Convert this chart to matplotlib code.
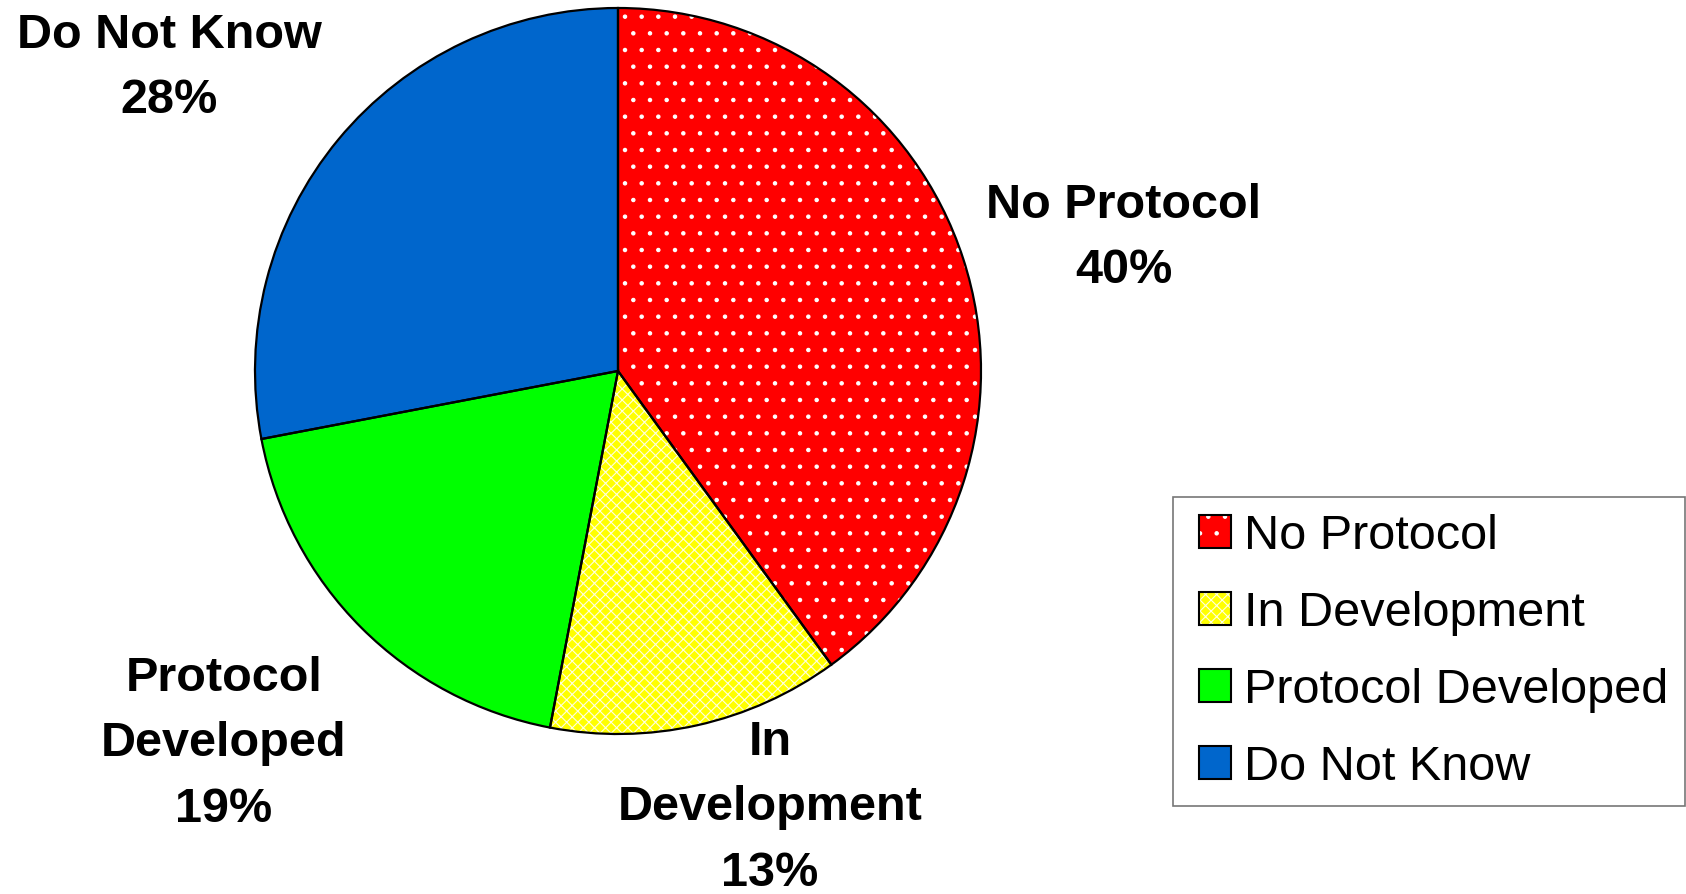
import matplotlib.pyplot as plt
from matplotlib.patches import Patch
from matplotlib.colors import to_rgba
from matplotlib.legend_handler import HandlerPatch

plt.rcParams['font.family'] = ['Liberation Sans', 'DejaVu Sans']
plt.rcParams['hatch.linewidth'] = 0.8

# data
categories = ['No Protocol', 'In Development', 'Protocol Developed', 'Do Not Know']
shares = [40, 13, 19, 28]
slice_labels = ['No Protocol\n40%', 'In\nDevelopment\n13%', 'Protocol\nDeveloped\n19%', 'Do Not Know\n28%']

colors = ['#ff0000', '#ffff00', '#00ff00', '#0066cc']
hatches = ['.', 'xxx', None, None]
hatch_cols = ['white', '#ffffe0', 'white', 'white']
# label positions in pixels (x from left, y from top)
label_pos = [(1124, 238), (770, 808), (224, 744), (169, 68)]

W, H = 1686, 894
fig = plt.figure(figsize=(W / 100, H / 100), dpi=100)
ax = fig.add_axes([0, 0, 1, 1])

cx, cy, r = 618, H - 371, 363

# fill + hatch layer (hatch colour comes from edgecolor)
wedges, _ = ax.pie(shares, colors=colors, startangle=90, counterclock=False,
                   center=(cx, cy), radius=r, frame=True,
                   wedgeprops=dict(linewidth=0))
for w, h, hc in zip(wedges, hatches, hatch_cols):
    w.set_edgecolor(hc)
    if h:
        w.set_hatch(h)

# outline layer
ax.pie(shares, colors=['none'] * 4, startangle=90, counterclock=False,
       center=(cx, cy), radius=r, frame=True,
       wedgeprops=dict(linewidth=1.6, edgecolor='black'))
ax.set_xlim(0, W)
ax.set_ylim(0, H)
ax.set_aspect('equal')
ax.axis('off')

for txt, (x, y) in zip(slice_labels, label_pos):
    ax.text(x, H - y, txt, ha='center', va='center', fontsize=35,
            fontweight='bold', linespacing=1.58)

# legend
handles = []
for c, h, hc, lab in zip(colors, hatches, hatch_cols, categories):
    hp = Patch(facecolor=c, edgecolor='black', linewidth=1.5, label=lab)
    if h:
        hp.set_hatch(h)
        hp._hatch_color = to_rgba(hc)  # white hatch, black border
    handles.append(hp)
leg = ax.legend(handles=handles, loc='upper left', bbox_to_anchor=(1173, H - 497),
                bbox_transform=ax.transData, fontsize=35, frameon=True,
                fancybox=False, edgecolor='#555555', borderpad=0.34,
                handlelength=0.85, handleheight=0.66, handletextpad=0.28,
                labelspacing=0.66, borderaxespad=0,
                handler_map={Patch: HandlerPatch(xpad=0.19)})
leg.get_frame().set_linewidth(1.2)

fig.savefig('out.png', dpi=100)
